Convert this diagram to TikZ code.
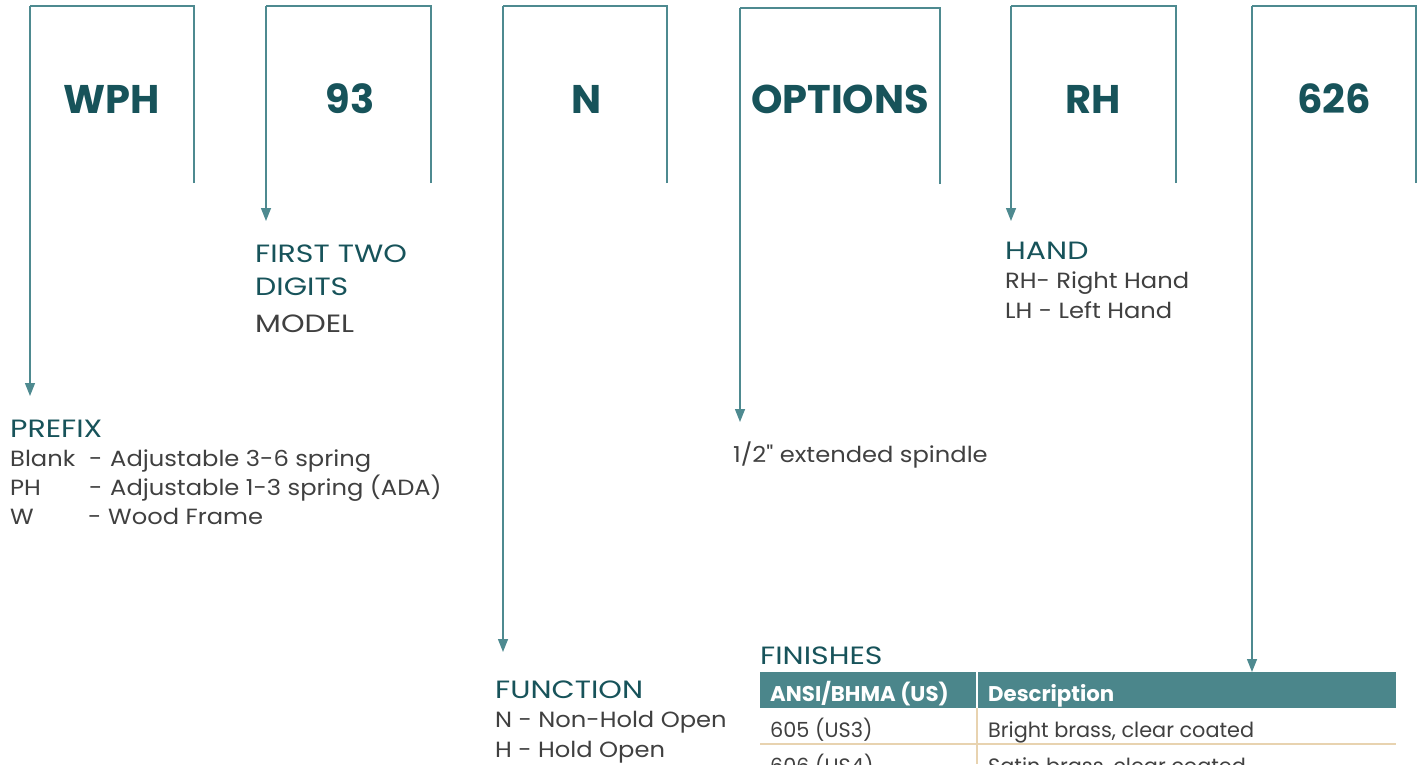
\documentclass[tikz,border=0pt]{standalone}
\usepackage{fontspec}
\setmainfont{Poppins}
\newfontfamily\headfont[FakeStretch=1.2]{Poppins}
\newfontfamily\bodyfont[FakeStretch=1.1]{Poppins}
\newfontfamily\tabfont{Poppins}
\usetikzlibrary{arrows.meta}
\definecolor{lnc}{HTML}{4E8A90}
\definecolor{hdc}{HTML}{17535A}
\definecolor{txc}{HTML}{404040}
\definecolor{tbl}{HTML}{4B868B}
\definecolor{bge}{HTML}{E8D3B0}
\tikzset{
  brk/.style={draw=lnc, line width=1.4pt},
  arr/.style={draw=lnc, line width=1.4pt, -{Triangle[width=10pt,length=13pt]}},
  code/.style={font=\fontsize{40}{42}\selectfont\bfseries, text=hdc, inner sep=0pt, anchor=base},
  head/.style={font=\headfont\fontsize{25}{29}\selectfont, text=hdc, inner sep=0pt, anchor=base west},
  body/.style={font=\bodyfont\fontsize{22}{29}\selectfont, text=txc, inner sep=0pt, anchor=base west},
  thead/.style={font=\tabfont\fontsize{21.3}{24}\selectfont\bfseries, text=white, inner sep=0pt, anchor=base west},
  tbody/.style={font=\tabfont\fontsize{20.8}{24}\selectfont, text=txc, inner sep=0pt, anchor=base west},
}
\begin{document}
\begin{tikzpicture}[x=1pt,y=-1pt]
\useasboundingbox (0,0) rectangle (1422,764);
\clip (0,0) rectangle (1422,764);
% codes
\node[code] (wph) at (112,113) {WPH};
\node[code] (n93) at (350,113) {93};
\node[code] (nn) at (587,113) {N};
\node[code] (opt) at (840,113) {OPTIONS};
\node[code] (rh) at (1093,113) {RH};
\node[code] (fin) at (1334,113) {626};
% arrow end coordinates
\coordinate (pA) at (30,396);
\coordinate (mA) at (266,221);
\coordinate (fA) at (503,652);
\coordinate (oA) at (740,422);
\coordinate (hA) at (1011,221);
\coordinate (sA) at (1252,672);
% brackets
\draw[brk] (194,183) -- (194,6) -- (30,6);
\draw[arr] (30,6) -- (pA);
\draw[brk] (431,183) -- (431,6) -- (266,6);
\draw[arr] (266,6) -- (mA);
\draw[brk] (667,183) -- (667,6) -- (503,6);
\draw[arr] (503,6) -- (fA);
\draw[brk] (940,184) -- (940,8) -- (740,8);
\draw[arr] (740,8) -- (oA);
\draw[brk] (1176,183) -- (1176,6) -- (1011,6);
\draw[arr] (1011,6) -- (hA);
\draw[brk] (1416,183) -- (1416,6) -- (1252,6);
\draw[arr] (1252,6) -- (sA);
% prefix
\node[head] (pre) at (10,437) {PREFIX};
\node[body] (p1a) at (10,466) {Blank};
\node[body] (p1d) at (89,466) {-};
\node[body] (p1b) at (110,466) {Adjustable 3-6 spring};
\node[body] (p2a) at (10,495) {PH};
\node[body] (p2d) at (89,495) {-};
\node[body] (p2b) at (110,495) {Adjustable 1-3 spring (ADA)};
\node[body] (p3a) at (10,524) {W};
\node[body] (p3d) at (88,524) {-};
\node[body] (p3b) at (108,524) {Wood Frame};
% model
\node[head] (m1) at (255,262) {FIRST TWO};
\node[head] (m2) at (255,295) {DIGITS};
\node[head, text=txc] (m3) at (255,332) {MODEL};
% hand
\node[head] (h1) at (1005,259) {HAND};
\node[body] (h2) at (1005,288) {RH- Right Hand};
\node[body] (h3) at (1005,318) {LH - Left Hand};
% options
\node[body] (o1) at (733,462) {1/2" extended spindle};
% function
\node[head] (f1) at (495,698) {FUNCTION};
\node[body] (f2) at (495,727) {N - Non-Hold Open};
\node[body] (f3) at (495,757) {H - Hold Open};
% finishes
\node[head] (s1) at (760,664) {FINISHES};
\fill[tbl] (760,672) rectangle (1396,708);
\draw[white, line width=1.5pt] (977,672) -- (977,708);
\draw[bge, line width=1.5pt] (977,708) -- (977,764);
\draw[bge, line width=1.5pt] (760,744) -- (1396,744);
\node[thead] (t1) at (770,701) {ANSI/BHMA (US)};
\node[thead] (t2) at (988,701) {Description};
\node[tbody] (r1a) at (770,737) {605 (US3)};
\node[tbody] (r1b) at (988,737) {Bright brass, clear coated};
\node[tbody] (r2a) at (770,773) {606 (US4)};
\node[tbody] (r2b) at (988,773) {Satin brass, clear coated};
\end{tikzpicture}
\end{document}
